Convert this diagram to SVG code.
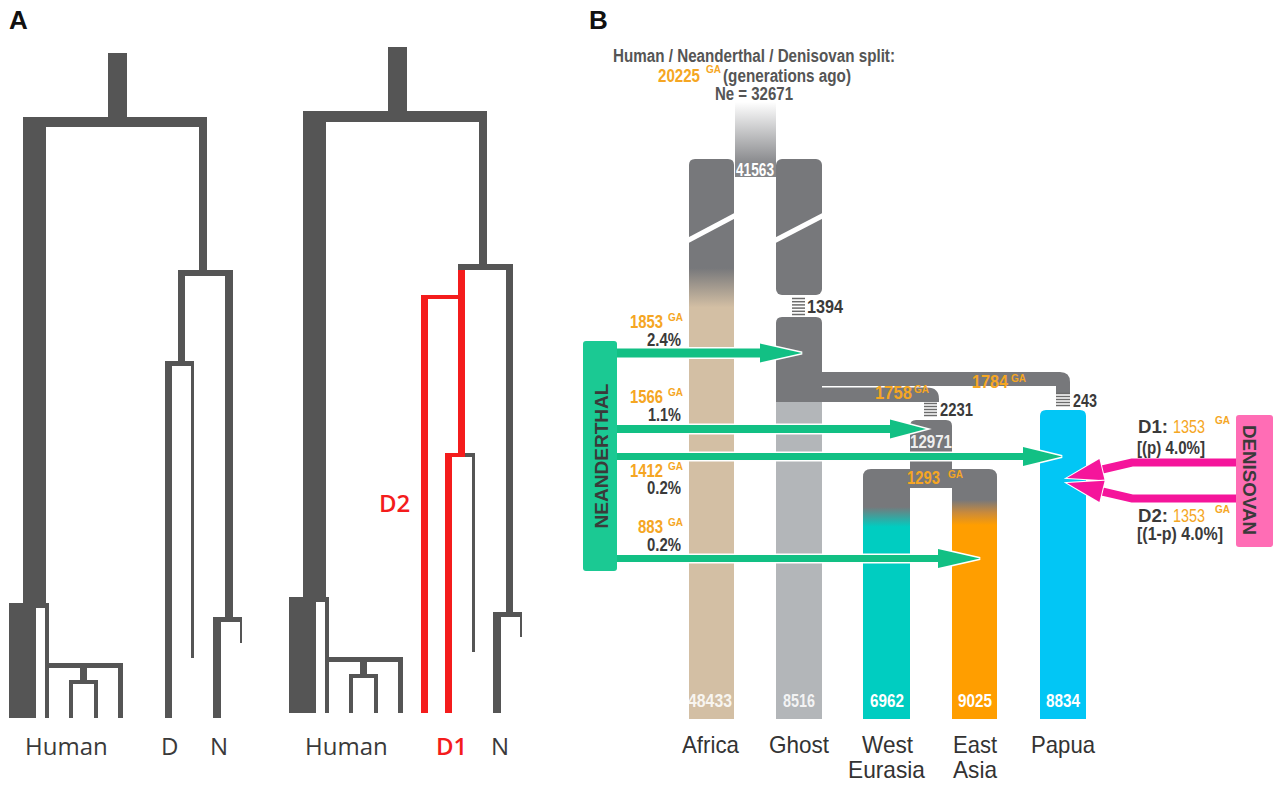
<svg xmlns="http://www.w3.org/2000/svg" width="1279" height="788" viewBox="0 0 1279 788">
<defs>
<linearGradient id="stemG" x1="0" y1="0" x2="0" y2="1"><stop offset="0" stop-color="#ffffff"/><stop offset="0.8" stop-color="#8a8b8e"/><stop offset="1" stop-color="#848588"/></linearGradient>
<linearGradient id="afrG" gradientUnits="userSpaceOnUse" x1="0" y1="159" x2="0" y2="719"><stop offset="0.195" stop-color="#77787b"/><stop offset="0.265" stop-color="#d3bfa4"/></linearGradient>
<linearGradient id="weG" gradientUnits="userSpaceOnUse" x1="0" y1="487" x2="0" y2="719"><stop offset="0.086" stop-color="#77787b"/><stop offset="0.172" stop-color="#00cdc1"/></linearGradient>
<linearGradient id="eaG" gradientUnits="userSpaceOnUse" x1="0" y1="487" x2="0" y2="719"><stop offset="0.056" stop-color="#77787b"/><stop offset="0.11" stop-color="#c98a3c"/><stop offset="0.164" stop-color="#ff9e00"/></linearGradient>
</defs>
<style>
.tree{fill:#555555}
.red{fill:#f41c1c}
.lblA{font-family:"Open Sans","DejaVu Sans",sans-serif;font-size:24px;fill:#3a3a3a}
.redlbl{font-family:"Open Sans","DejaVu Sans",sans-serif;font-size:24px;font-weight:600;fill:#f41c1c}
.panel{font-family:"Liberation Sans",Arial,sans-serif;font-weight:bold;font-size:26px;fill:#111}
.b{font-family:"Liberation Sans",Arial,sans-serif;font-weight:bold;font-size:18px}
.n{font-family:"Liberation Sans",Arial,sans-serif;font-size:24px;fill:#333}
.sup{font-family:"Liberation Sans",Arial,sans-serif;font-weight:bold;font-size:10px;fill:#f5a623}
.or{fill:#f5a623}
.dk{fill:#3a3a3a}
.tt{fill:#555555}
.wh{fill:#ffffff}
.gray{fill:#77787b}
.arrow{fill:#12c084;stroke:#ffffff;stroke-width:3;paint-order:stroke}
.magh{fill:#f5159b;stroke:#ffffff;stroke-width:2;paint-order:stroke}
.mags{fill:none;stroke:#f5159b;stroke-width:8}
.lad{stroke:#6b6b6b;stroke-width:1.5}
.slash{stroke:#ffffff;stroke-width:5}
</style>
<rect width="1279" height="788" fill="#ffffff"/>

<!-- Panel A -->
<text class="panel" x="9" y="29">A</text>
<g id="treeA1">
  <rect class="tree" x="108" y="53" width="19" height="64"/>
  <rect class="tree" x="23" y="117" width="184" height="10"/>
  <rect class="tree" x="23" y="117" width="23" height="486"/>
  <rect class="tree" x="199" y="117" width="8" height="153"/>
  <rect class="tree" x="178" y="270" width="55" height="6"/>
  <rect class="tree" x="178" y="270" width="7" height="91"/>
  <rect class="tree" x="165" y="361" width="29" height="5"/>
  <rect class="tree" x="165" y="361" width="7" height="357"/>
  <rect class="tree" x="191" y="361" width="3" height="297"/>
  <rect class="tree" x="225" y="270" width="8" height="347"/>
  <rect class="tree" x="213" y="617" width="29" height="5"/>
  <rect class="tree" x="213" y="617" width="8" height="101"/>
  <rect class="tree" x="240" y="617" width="2" height="26"/>
  <rect class="tree" x="9" y="603" width="27" height="115"/>
  <rect class="tree" x="9" y="603" width="40" height="5"/>
  <rect class="tree" x="45" y="603" width="4" height="115"/>
  <rect class="tree" x="45" y="663" width="78" height="5"/>
  <rect class="tree" x="118" y="663" width="5" height="55"/>
  <rect class="tree" x="80" y="666" width="7" height="15"/>
  <rect class="tree" x="69" y="680" width="29" height="4"/>
  <rect class="tree" x="69" y="680" width="4" height="38"/>
  <rect class="tree" x="94" y="680" width="4" height="38"/>
  <text class="lblA" x="25" y="755">Human</text>
  <text class="lblA" x="161" y="755">D</text>
  <text class="lblA" x="210" y="755">N</text>
</g>
<g id="treeA2">
  <rect class="tree" x="388" y="47" width="19" height="64"/>
  <rect class="tree" x="303" y="111" width="184" height="11"/>
  <rect class="tree" x="303" y="111" width="23" height="486"/>
  <rect class="tree" x="479" y="111" width="8" height="153"/>
  <rect class="tree" x="458" y="264" width="55" height="6"/>
  <rect class="red" x="458" y="270" width="7" height="187"/>
  <rect class="red" x="421" y="295" width="37" height="4"/>
  <rect class="red" x="421" y="295" width="7" height="418"/>
  <rect class="red" x="445" y="453" width="20" height="4"/>
  <rect class="tree" x="465" y="453" width="10" height="4"/>
  <rect class="red" x="445" y="453" width="7" height="260"/>
  <rect class="tree" x="472" y="457" width="3" height="195"/>
  <rect class="tree" x="506" y="264" width="7" height="348"/>
  <rect class="tree" x="493" y="612" width="29" height="5"/>
  <rect class="tree" x="493" y="612" width="8" height="101"/>
  <rect class="tree" x="520" y="612" width="2" height="25"/>
  <rect class="tree" x="289" y="597" width="27" height="116"/>
  <rect class="tree" x="289" y="597" width="40" height="5"/>
  <rect class="tree" x="325" y="597" width="4" height="116"/>
  <rect class="tree" x="325" y="657" width="78" height="5"/>
  <rect class="tree" x="398" y="657" width="5" height="56"/>
  <rect class="tree" x="360" y="660" width="7" height="15"/>
  <rect class="tree" x="349" y="674" width="29" height="4"/>
  <rect class="tree" x="349" y="674" width="4" height="39"/>
  <rect class="tree" x="374" y="674" width="4" height="39"/>
  <text class="lblA" x="305" y="755">Human</text>
  <text class="redlbl" x="436" y="755">D1</text>
  <text class="lblA" x="491" y="755">N</text>
  <text class="redlbl" x="379" y="512">D2</text>
</g>

<!-- Panel B -->
<text class="panel" x="589" y="29">B</text>
<g id="title">
  <text class="b tt" x="613" y="62" textLength="282" lengthAdjust="spacingAndGlyphs">Human / Neanderthal / Denisovan split:</text>
  <text class="b or" x="658" y="82" textLength="42" lengthAdjust="spacingAndGlyphs">20225</text>
  <text class="sup" x="706" y="73">GA</text>
  <text class="b tt" x="723" y="82" textLength="128" lengthAdjust="spacingAndGlyphs">(generations ago)</text>
  <text class="b tt" x="715" y="100" textLength="78" lengthAdjust="spacingAndGlyphs">Ne = 32671</text>
</g>

<g id="ancestor">
  <rect x="735" y="102" width="41" height="75" fill="url(#stemG)"/>
  <text class="b wh" x="736" y="176" font-size="19" textLength="38" lengthAdjust="spacingAndGlyphs">41563</text>
</g>

<g id="bands">
  <path class="gray" d="M815,372 H1060 Q1070,372 1070,382 V393 H1056 V386 H815 Z"/>
  <path class="gray" d="M815,387.5 H927 Q939,387.5 939,399 V402 H815 Z" stroke="#ffffff" stroke-width="1.5" paint-order="stroke"/>
  <text class="b or" x="972" y="388" textLength="36" lengthAdjust="spacingAndGlyphs">1784</text>
  <text class="sup" x="1011" y="382">GA</text>
  <text class="b or" x="875" y="399" textLength="37" lengthAdjust="spacingAndGlyphs">1758</text>
  <text class="sup" x="914" y="393">GA</text>
</g>

<g id="africa">
  <path d="M689,719 V165 Q689,159 695,159 H728 Q734,159 734,165 V719 Z" fill="url(#afrG)"/>
  <line class="slash" x1="686" y1="241.5" x2="737" y2="214.5"/>
  <text class="b" x="688" y="707" font-size="19" fill="#ffffff" fill-opacity="0.85" textLength="44" lengthAdjust="spacingAndGlyphs">48433</text>
</g>

<g id="ghost">
  <rect class="gray" x="776" y="159" width="46" height="136" rx="6"/>
  <line class="slash" x1="773" y1="241.5" x2="825" y2="214.5"/>
  <g class="lad">
    <line x1="792" y1="298.5" x2="805" y2="298.5"/>
    <line x1="792" y1="301.7" x2="805" y2="301.7"/>
    <line x1="792" y1="304.9" x2="805" y2="304.9"/>
    <line x1="792" y1="308.1" x2="805" y2="308.1"/>
    <line x1="792" y1="311.3" x2="805" y2="311.3"/>
    <line x1="792" y1="314.5" x2="805" y2="314.5"/>
  </g>
  <text class="b dk" x="807" y="313" textLength="36" lengthAdjust="spacingAndGlyphs">1394</text>
  <path class="gray" d="M776,402 V323 Q776,317 782,317 H816 Q822,317 822,323 V402 Z"/>
  <rect x="776" y="402" width="46" height="317" fill="#b3b6b9"/>
  <text class="b" x="783" y="707" font-size="19" fill="#ffffff" fill-opacity="0.85" textLength="32" lengthAdjust="spacingAndGlyphs">8516</text>
</g>

<g id="eurasia">
  <g class="lad">
    <line x1="924" y1="403.5" x2="937" y2="403.5"/>
    <line x1="924" y1="406.5" x2="937" y2="406.5"/>
    <line x1="924" y1="409.5" x2="937" y2="409.5"/>
    <line x1="924" y1="412.5" x2="937" y2="412.5"/>
    <line x1="924" y1="415.5" x2="937" y2="415.5"/>
  </g>
  <text class="b dk" x="940" y="416" textLength="33" lengthAdjust="spacingAndGlyphs">2231</text>
  <path class="gray" d="M910,475 V426 Q910,420 916,420 H946 Q952,420 952,426 V475 Z"/>
  <text class="b" x="910" y="448" font-size="19" fill="#ffffff" fill-opacity="0.9" textLength="42" lengthAdjust="spacingAndGlyphs">12971</text>
  <path class="gray" d="M863,488 V477 Q863,469 871,469 H989 Q997,469 997,477 V488 Z"/>
  <text class="b or" x="907" y="484" textLength="33" lengthAdjust="spacingAndGlyphs">1293</text>
  <text class="sup" x="948" y="478">GA</text>
</g>

<g id="westEurasia">
  <rect x="863" y="487" width="47" height="232" fill="url(#weG)"/>
  <text class="b wh" x="870" y="707" font-size="19" textLength="34" lengthAdjust="spacingAndGlyphs">6962</text>
</g>
<g id="eastAsia">
  <rect x="952" y="487" width="45" height="232" fill="url(#eaG)"/>
  <text class="b wh" x="958" y="707" font-size="19" textLength="34" lengthAdjust="spacingAndGlyphs">9025</text>
</g>

<g id="papua">
  <g class="lad">
    <line x1="1056" y1="393.5" x2="1070" y2="393.5"/>
    <line x1="1056" y1="396.5" x2="1070" y2="396.5"/>
    <line x1="1056" y1="399.5" x2="1070" y2="399.5"/>
    <line x1="1056" y1="402.5" x2="1070" y2="402.5"/>
    <line x1="1056" y1="405.5" x2="1070" y2="405.5"/>
  </g>
  <text class="b dk" x="1073" y="407" textLength="24" lengthAdjust="spacingAndGlyphs">243</text>
  <path d="M1040,719 V416 Q1040,410 1046,410 H1080 Q1086,410 1086,416 V719 Z" fill="#02c6f5"/>
  <text class="b wh" x="1046" y="707" font-size="19" textLength="34" lengthAdjust="spacingAndGlyphs">8834</text>
</g>

<g id="connectors">
  <polygon class="arrow" points="617,348.5 760,348.5 760,343.5 802,353 760,362.5 760,357.5 617,357.5"/>
  <polygon class="arrow" points="617,425 890,425 890,419.5 926,429 890,438.5 890,433 617,433"/>
  <polygon class="arrow" points="617,453 1023,453 1023,447 1062,456.5 1023,466 1023,460 617,460"/>
  <polygon class="arrow" points="617,555 938,555 938,549 980,558.5 938,568 938,562 617,562"/>
  <polyline class="mags" points="1240,462.5 1132,462.5 1100,470"/>
  <polygon class="magh" points="1067,478 1099.4,458.9 1104.6,480.3"/>
  <polyline class="mags" points="1240,498.5 1132,498.5 1100,491"/>
  <polygon class="magh" points="1067,483 1104.6,480.7 1099.4,502.1"/>
</g>

<g id="neanderthal">
  <rect x="583" y="341" width="34" height="230" rx="3" fill="#1bc993"/>
  <text class="b dk" font-size="20" text-anchor="middle" transform="translate(608,456) rotate(-90)" textLength="145" lengthAdjust="spacingAndGlyphs">NEANDERTHAL</text>
  <text class="b or" x="630" y="328" textLength="33" lengthAdjust="spacingAndGlyphs">1853</text>
  <text class="sup" x="668" y="321">GA</text>
  <text class="b dk" x="647" y="346" textLength="34" lengthAdjust="spacingAndGlyphs">2.4%</text>
  <text class="b or" x="630" y="403" textLength="33" lengthAdjust="spacingAndGlyphs">1566</text>
  <text class="sup" x="668" y="396">GA</text>
  <text class="b dk" x="648" y="421" textLength="33" lengthAdjust="spacingAndGlyphs">1.1%</text>
  <text class="b or" x="630" y="477" textLength="33" lengthAdjust="spacingAndGlyphs">1412</text>
  <text class="sup" x="668" y="470">GA</text>
  <text class="b dk" x="647" y="494" textLength="34" lengthAdjust="spacingAndGlyphs">0.2%</text>
  <text class="b or" x="638" y="533" textLength="25" lengthAdjust="spacingAndGlyphs">883</text>
  <text class="sup" x="668" y="526">GA</text>
  <text class="b dk" x="647" y="551" textLength="34" lengthAdjust="spacingAndGlyphs">0.2%</text>
</g>

<g id="denisovan">
  <rect x="1236" y="415" width="37" height="132" rx="3" fill="#ff6db5"/>
  <text class="b dk" font-size="24" text-anchor="middle" transform="translate(1243,480) rotate(90)" textLength="110" lengthAdjust="spacingAndGlyphs">DENISOVAN</text>
  <text class="b dk" x="1138" y="433" font-size="19" textLength="30" lengthAdjust="spacingAndGlyphs">D1:</text>
  <text x="1173" y="433" font-family="Liberation Sans, Arial, sans-serif" font-size="18" class="or" textLength="32" lengthAdjust="spacingAndGlyphs">1353</text>
  <text class="sup" x="1215" y="424">GA</text>
  <text class="b dk" x="1137" y="454" font-size="15" textLength="68" lengthAdjust="spacingAndGlyphs">[(p) 4.0%]</text>
  <text class="b dk" x="1138" y="522" font-size="19" textLength="30" lengthAdjust="spacingAndGlyphs">D2:</text>
  <text x="1173" y="522" font-family="Liberation Sans, Arial, sans-serif" font-size="18" class="or" textLength="32" lengthAdjust="spacingAndGlyphs">1353</text>
  <text class="sup" x="1215" y="513">GA</text>
  <text class="b dk" x="1137" y="540" font-size="15" textLength="86" lengthAdjust="spacingAndGlyphs">[(1-p) 4.0%]</text>
</g>

<g id="labels">
  <text class="n" x="682" y="753" textLength="57" lengthAdjust="spacingAndGlyphs">Africa</text>
  <text class="n" x="769" y="753" textLength="60" lengthAdjust="spacingAndGlyphs">Ghost</text>
  <text class="n" x="862" y="753" textLength="51" lengthAdjust="spacingAndGlyphs">West</text>
  <text class="n" x="848" y="778" textLength="77" lengthAdjust="spacingAndGlyphs">Eurasia</text>
  <text class="n" x="953" y="753" textLength="44" lengthAdjust="spacingAndGlyphs">East</text>
  <text class="n" x="953" y="778" textLength="44" lengthAdjust="spacingAndGlyphs">Asia</text>
  <text class="n" x="1031" y="753" textLength="64" lengthAdjust="spacingAndGlyphs">Papua</text>
</g>
</svg>
